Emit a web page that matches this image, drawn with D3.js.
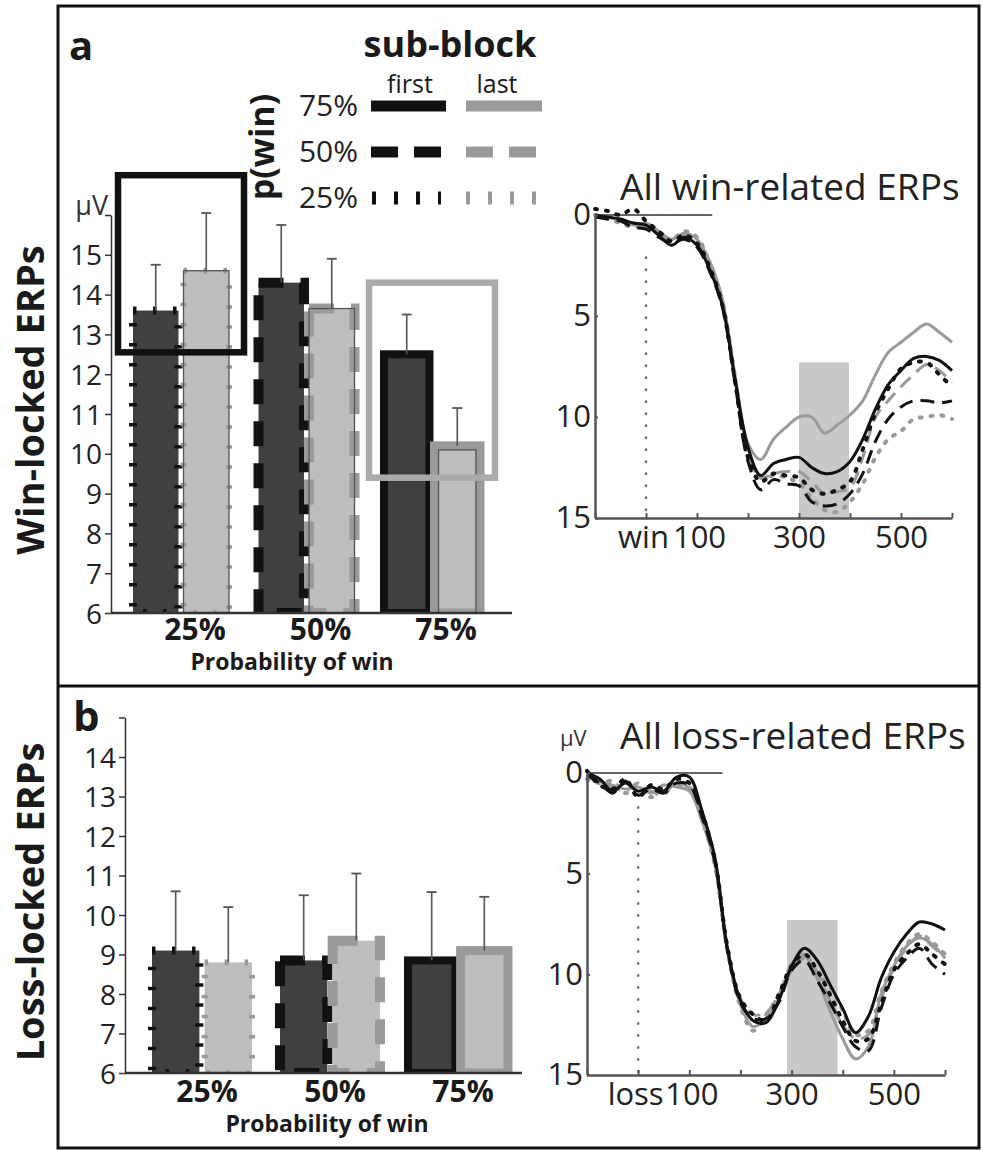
<!DOCTYPE html>
<html>
<head>
<meta charset="utf-8">
<script src="https://cdn.jsdelivr.net/npm/d3@7"></script>
<style>
body { margin: 0; background: #fff; }
svg text { font-family: "Open Sans", sans-serif; fill: #1a1a1a; }
</style>
</head>
<body>
<div id="fig"></div>
<script>
// bar values (uV) per probability-of-win group
var groups = ["25%", "50%", "75%"];
var subBlocks = ["first", "last"];

var winFirst = [13.6, 14.3, 12.5];
var winLast = [14.6, 13.65, 10.2];
var winFirstSem = [1.15, 1.45, 1.0];
var winLastSem = [1.45, 1.25, 0.95];

var lossFirst = [9.1, 8.85, 8.85];
var lossLast = [8.8, 9.35, 9.1];
var lossFirstSem = [1.5, 1.65, 1.73];
var lossLastSem = [1.4, 1.7, 1.36];

// highlighted cells in panel a: [group, low, high]
var winBoxes = [["25%", 12.55, 17.0], ["75%", 9.4, 14.3]];

// ERP waveforms, time in ms, amplitude in uV (positive plotted down)
var times = [-100, -75, -50, -25, 0, 25, 50, 75, 100, 125, 150, 175, 200, 225, 250, 275, 300, 325, 350, 375, 400, 425, 450, 475, 500, 525, 550, 575, 600];

var win75First = [0, 0.1, 0.2, 0.4, 0.5, 1.0, 1.5, 1.1, 1.5, 2.7, 4.5, 8.2, 11.5, 12.9, 12.3, 12.1, 12.0, 12.5, 12.8, 12.7, 12.2, 11.1, 9.6, 8.4, 7.7, 7.1, 7.0, 7.2, 7.7];
var win75Last = [0, 0.1, 0.3, 0.5, 0.4, 0.8, 1.2, 0.9, 1.2, 2.3, 4.2, 8.0, 11.3, 12.1, 11.1, 10.5, 10.0, 10.0, 10.8, 10.4, 9.9, 9.2, 7.9, 6.8, 6.3, 5.8, 5.4, 5.8, 6.3];
var win50First = [0.1, 0.2, 0.3, 0.6, 0.7, 1.1, 1.4, 1.2, 1.6, 2.8, 4.6, 8.4, 12.2, 13.6, 13.1, 13.3, 13.4, 14.2, 14.4, 14.3, 13.8, 12.8, 11.2, 10.1, 9.5, 9.2, 9.2, 9.3, 9.2];
var win50Last = [0, 0.1, 0.3, 0.5, 0.6, 0.9, 1.3, 1.0, 1.4, 2.5, 4.4, 8.3, 11.8, 13.0, 12.8, 12.7, 12.7, 13.2, 13.8, 13.7, 13.5, 12.0, 10.0, 9.2, 8.5, 7.9, 7.4, 7.7, 8.3];
var win25First = [-0.3, -0.2, 0.0, -0.3, 0.3, 0.8, 1.3, 1.0, 1.4, 2.6, 4.5, 8.3, 12.0, 13.2, 12.8, 12.9, 13.0, 13.6, 13.8, 13.6, 13.2, 11.6, 9.8, 8.6, 7.6, 7.3, 7.3, 7.9, 8.5];
var win25Last = [0, 0.2, 0.4, 0.6, 0.5, 0.9, 1.2, 0.8, 1.1, 2.4, 4.3, 8.1, 11.9, 13.0, 12.9, 13.0, 13.3, 14.0, 14.6, 14.7, 14.2, 13.3, 12.0, 11.1, 10.7, 10.1, 10.0, 9.9, 10.1];

var loss75First = [0, 0.3, 0.9, 0.5, 0.9, 0.7, 0.9, 0.2, 0.2, 1.9, 4.2, 8.8, 11.3, 12.3, 12.4, 11.3, 9.6, 8.7, 9.3, 10.5, 11.7, 12.9, 12.1, 10.2, 8.9, 8.0, 7.4, 7.5, 7.8];
var loss75Last = [0.2, 0.4, 0.6, 0.8, 0.7, 1.0, 0.6, 0.7, 0.9, 2.4, 4.5, 8.9, 11.5, 12.6, 12.2, 11.2, 9.8, 9.1, 10.2, 11.8, 13.2, 14.2, 13.6, 11.0, 9.6, 8.6, 8.2, 8.5, 9.2];
var loss50First = [0.1, 0.5, 1.0, 0.4, 1.1, 0.8, 1.0, 0.5, 0.6, 2.2, 4.4, 8.8, 11.4, 12.2, 12.2, 11.4, 9.8, 9.3, 10.3, 11.4, 12.6, 13.6, 13.8, 11.7, 10.0, 9.2, 8.7, 9.5, 10.0];
var loss50Last = [0.2, 0.3, 0.7, 0.9, 0.5, 0.9, 1.1, 0.4, 0.8, 2.1, 4.3, 8.7, 11.2, 12.0, 11.9, 11.0, 9.5, 9.0, 9.9, 11.3, 12.5, 13.2, 13.0, 11.2, 9.7, 8.7, 8.1, 8.6, 9.2];
var loss25First = [-0.1, 0.6, 0.8, 0.3, 1.2, 0.6, 0.8, 0.3, 0.5, 2.0, 4.3, 8.7, 11.2, 12.0, 12.3, 11.0, 9.6, 9.0, 9.8, 11.0, 12.3, 13.3, 13.2, 11.5, 9.8, 9.0, 8.5, 9.0, 9.5];
var loss25Last = [0.3, 0.5, 0.4, 1.0, 0.6, 1.2, 0.7, 0.6, 0.7, 2.3, 4.6, 8.9, 11.6, 12.8, 12.0, 11.0, 9.7, 9.2, 10.0, 10.6, 11.8, 13.0, 12.8, 10.9, 9.5, 8.5, 8.0, 8.4, 9.0];

var erpTicks = [-100, 0, 100, 200, 300, 400, 500, 600];
var erpTickLabels = {100: "100", 300: "300", 500: "500"};

var DARK = "#404040", LIGHT = "#bdbdbd", GRAY = "#9a9a9a", INK = "#111";

// line style for each group (25 dotted, 50 dashed, 75 solid)
var groupDash = ["3.5,16.5", "25,17", null];
var barWidth = { first: [8, 10, 8], last: [6, 10, 9] };
var erpDash = ["2,9", "14,8", null];

var svg = d3.select("#fig").append("svg")
    .attr("width", 982)
    .attr("height", 1150);

// outer frame
svg.append("rect")
    .attr("x", 58).attr("y", 6)
    .attr("width", 921).attr("height", 1142)
    .attr("fill", "none").attr("stroke", INK).attr("stroke-width", 3);
svg.append("line")
    .attr("x1", 58).attr("x2", 979).attr("y1", 686).attr("y2", 686)
    .attr("stroke", INK).attr("stroke-width", 3);

// row titles
svg.append("text")
    .attr("transform", "translate(44, 400) rotate(-90)")
    .attr("text-anchor", "middle")
    .style("font-size", "38px").style("font-weight", "bold")
    .text("Win-locked ERPs");
svg.append("text")
    .attr("transform", "translate(44, 902) rotate(-90)")
    .attr("text-anchor", "middle")
    .style("font-size", "38px").style("font-weight", "bold")
    .text("Loss-locked ERPs");

svg.append("text").attr("x", 69).attr("y", 60)
    .style("font-size", "40px").style("font-weight", "bold").text("a");
svg.append("text").attr("x", 73).attr("y", 731)
    .style("font-size", "42px").style("font-weight", "bold").text("b");

function drawBars(opt) {
    var g = svg.append("g");
    var y = opt.y;
    var x = opt.x;
    var inner = d3.scaleBand().domain(subBlocks).range(opt.inner).paddingInner(0.1);
    var y0 = y(6);

    var rows = [];
    groups.forEach(function (grp, i) {
        rows.push({ grp: grp, i: i, s: "first", v: opt.first[i], e: opt.firstSem[i] });
        rows.push({ grp: grp, i: i, s: "last", v: opt.last[i], e: opt.lastSem[i] });
    });

    var clipId = "clip" + opt.name;
    g.append("clipPath").attr("id", clipId)
        .append("rect")
        .attr("x", x.range()[0] - 100).attr("y", 0)
        .attr("width", 600).attr("height", y0);

    var bars = g.append("g").attr("clip-path", "url(#" + clipId + ")");

    bars.selectAll("rect.bar")
        .data(rows)
        .enter()
        .append("rect")
        .attr("class", "bar")
        .attr("x", d => x(d.grp) + inner(d.s))
        .attr("width", inner.bandwidth())
        .attr("y", d => y(d.v))
        .attr("height", d => y0 - y(d.v))
        .attr("fill", d => d.s == "first" ? DARK : LIGHT)
        .attr("stroke", d => d.s == "first" ? INK : GRAY)
        .attr("stroke-width", d => barWidth[d.s][d.i])
        .attr("stroke-dasharray", d => groupDash[d.i]);

    if (opt.outline) {
        bars.selectAll("rect.outline")
            .data(rows.filter(d => d.s == "last"))
            .enter()
            .append("rect")
            .attr("x", d => x(d.grp) + inner(d.s) + (d.i == 2 ? 4 : 0))
            .attr("width", d => inner.bandwidth() - (d.i == 2 ? 8 : 0))
            .attr("y", d => y(d.v) + (d.i == 2 ? 4 : 0))
            .attr("height", d => y0 - y(d.v))
            .attr("fill", "none")
            .attr("stroke", "#555")
            .attr("stroke-width", 1.3);
    }

    // error bars (upper half only)
    var err = g.selectAll("g.err").data(rows).enter().append("g");
    err.append("line")
        .attr("x1", d => x(d.grp) + inner(d.s) + inner.bandwidth() / 2)
        .attr("x2", d => x(d.grp) + inner(d.s) + inner.bandwidth() / 2)
        .attr("y1", d => y(d.v))
        .attr("y2", d => y(d.v + d.e))
        .attr("stroke", "#555").attr("stroke-width", 1.6);
    err.append("line")
        .attr("x1", d => x(d.grp) + inner(d.s) + inner.bandwidth() / 2 - 5)
        .attr("x2", d => x(d.grp) + inner(d.s) + inner.bandwidth() / 2 + 5)
        .attr("y1", d => y(d.v + d.e))
        .attr("y2", d => y(d.v + d.e))
        .attr("stroke", "#555").attr("stroke-width", 1.8);

    // axes
    var top = y.domain()[1];
    var yAxis = d3.axisLeft(y)
        .tickValues(d3.range(6, top + 1))
        .tickFormat(d => d == top ? "" : d)
        .tickSize(6).tickSizeOuter(0);
    var ax = g.append("g")
        .attr("transform", `translate(${opt.axisX}, 0)`)
        .call(yAxis);
    ax.select(".domain").attr("stroke", "#333").attr("stroke-width", 1.5);
    ax.selectAll(".tick line").attr("stroke", "#333").attr("stroke-width", 1.5);
    ax.selectAll(".tick text")
        .attr("x", -9)
        .style("font-size", "28px").style("fill", "#222")
        .attr("dy", "0.36em");

    g.append("line")
        .attr("x1", opt.axisX).attr("x2", opt.axisEnd)
        .attr("y1", y0).attr("y2", y0)
        .attr("stroke", "#333").attr("stroke-width", 2.5);

    g.selectAll("text.grp")
        .data(groups)
        .enter()
        .append("text")
        .attr("x", d => x(d) + opt.labelShift)
        .attr("y", opt.labelY)
        .attr("text-anchor", "middle")
        .style("font-size", "30px").style("font-weight", "bold")
        .text(d => d);

    g.append("text")
        .attr("x", opt.titleX).attr("y", opt.labelY + 30)
        .attr("text-anchor", "middle")
        .style("font-size", "23px").style("font-weight", "bold")
        .text("Probability of win");

    return g;
}

var yWin = d3.scaleLinear().domain([6, 16]).range([613, 215]);
var xWin = d3.scalePoint().domain(groups).range([181, 432]);
var barA = drawBars({
    name: "a", x: xWin, y: yWin, inner: [-48, 48],
    first: winFirst, last: winLast, firstSem: winFirstSem, lastSem: winLastSem,
    outline: true, axisX: 111, axisEnd: 512, labelY: 640, labelShift: 14, titleX: 292
});

// highlight boxes
barA.selectAll("rect.box")
    .data(winBoxes)
    .enter()
    .append("rect")
    .attr("x", d => xWin(d[0]) - 63)
    .attr("width", 126)
    .attr("y", d => yWin(d[2]))
    .attr("height", d => yWin(d[1]) - yWin(d[2]))
    .attr("fill", "none")
    .attr("stroke", (d, i) => i == 0 ? INK : "#aaa")
    .attr("stroke-width", 6.5);

barA.append("text")
    .attr("x", 108).attr("y", 215)
    .attr("text-anchor", "end")
    .style("font-size", "27px").style("fill", "#333")
    .text("μV");

var yLossBar = d3.scaleLinear().domain([6, 15]).range([1073, 717.5]);
var xLossBar = d3.scalePoint().domain(groups).range([202, 458]);
drawBars({
    name: "b", x: xLossBar, y: yLossBar, inner: [-50, 50],
    first: lossFirst, last: lossLast, firstSem: lossFirstSem, lastSem: lossLastSem,
    outline: false, axisX: 125, axisEnd: 522, labelY: 1102, labelShift: 5, titleX: 327
});

// legend
var legendRows = ["75%", "50%", "25%"];
var legendIdx = [2, 1, 0];
var legend = svg.append("g");
legend.append("text").attr("x", 450).attr("y", 57)
    .attr("text-anchor", "middle")
    .style("font-size", "36px").style("font-weight", "bold")
    .text("sub-block");
legend.append("text").attr("x", 410).attr("y", 93)
    .attr("text-anchor", "middle").style("font-size", "25px").text("first");
legend.append("text").attr("x", 497).attr("y", 93)
    .attr("text-anchor", "middle").style("font-size", "25px").text("last");
legend.append("text")
    .attr("transform", "translate(274, 147) rotate(-90)")
    .attr("text-anchor", "middle")
    .style("font-size", "34px").style("font-weight", "bold")
    .text("p(win)");

legendRows.forEach(function (lab, r) {
    var ly = 106 + r * 46;
    var gi = legendIdx[r];
    legend.append("text").attr("x", 358).attr("y", ly + 10)
        .attr("text-anchor", "end").style("font-size", "30px").style("fill", "#222")
        .text(lab);
    var dash = gi == 0 ? "4,18" : gi == 1 ? "27,16" : null;
    legend.append("line")
        .attr("x1", gi == 0 ? 372 : 371).attr("x2", gi == 2 ? 446 : 441)
        .attr("y1", ly).attr("y2", ly)
        .attr("stroke", INK).attr("stroke-width", gi == 0 ? 13 : 11)
        .attr("stroke-dasharray", dash);
    legend.append("line")
        .attr("x1", 466).attr("x2", gi == 2 ? 542 : 537)
        .attr("y1", ly).attr("y2", ly)
        .attr("stroke", GRAY).attr("stroke-width", gi == 0 ? 13 : 11)
        .attr("stroke-dasharray", dash);
});

function drawErp(opt) {
    var g = svg.append("g");
    var x = d3.scaleLinear().domain([-100, 600]).range(opt.xr);
    var y = d3.scaleLinear().domain([0, 15]).range(opt.yr);

    g.append("text")
        .attr("x", 620).attr("y", opt.titleY)
        .style("font-size", "37px").style("fill", "#222")
        .text(opt.title);

    // analysis window
    g.append("rect")
        .attr("x", x(opt.win[0]))
        .attr("width", x(opt.win[1]) - x(opt.win[0]))
        .attr("y", y(7.3))
        .attr("height", y(15) - y(7.3))
        .attr("fill", "#c8c8c8");

    // event onset
    g.append("line")
        .attr("x1", x(0)).attr("x2", x(0))
        .attr("y1", y(opt.onsetTop)).attr("y2", y(15))
        .attr("stroke", "#777").attr("stroke-width", 2.5)
        .attr("stroke-linecap", "round")
        .attr("stroke-dasharray", "0.5,11.5");

    g.append("line")
        .attr("x1", x(-100)).attr("x2", x(opt.zeroEnd))
        .attr("y1", y(0)).attr("y2", y(0))
        .attr("stroke", "#333").attr("stroke-width", 1.6);

    var line = d3.line()
        .x((d, i) => x(times[i]))
        .y(d => y(d))
        .curve(d3.curveCatmullRom.alpha(0.5));

    // draw gray first, black on top
    var order = [[1, 2], [1, 1], [1, 0], [0, 2], [0, 1], [0, 0]];
    order.forEach(function (o) {
        var s = o[0], gi = o[1];
        g.append("path")
            .datum(opt.series[gi][s])
            .attr("d", line)
            .attr("fill", "none")
            .attr("stroke", s == 0 ? INK : GRAY)
            .attr("stroke-width", gi == 0 ? 4 : 3)
            .attr("stroke-linecap", gi == 0 ? "round" : "butt")
            .attr("stroke-dasharray", erpDash[gi]);
    });

    var yAxis = d3.axisLeft(y).tickValues([0, 5, 10, 15]).tickSize(-3).tickSizeOuter(0);
    var ay = g.append("g").attr("transform", `translate(${x(-100)}, 0)`).call(yAxis);
    ay.select(".domain").attr("stroke", "#555").attr("stroke-width", 2.5);
    ay.selectAll(".tick line").attr("stroke", "#555").attr("stroke-width", 2);
    ay.selectAll(".tick text").attr("x", -4)
        .style("font-size", "31px").style("fill", "#222");

    var labels = Object.assign({}, erpTickLabels);
    labels[0] = opt.event;
    var xAxis = d3.axisBottom(x).tickValues(erpTicks)
        .tickFormat(d => labels[d] === undefined ? "" : labels[d])
        .tickSize(-5).tickSizeOuter(0);
    var axx = g.append("g").attr("transform", `translate(0, ${y(15)})`).call(xAxis);
    axx.select(".domain").attr("stroke", "#555").attr("stroke-width", 2.5);
    axx.selectAll(".tick line").attr("stroke", "#555").attr("stroke-width", 2);
    axx.selectAll(".tick text").attr("y", 8)
        .style("font-size", "31px").style("fill", "#222");
    axx.selectAll(".tick text").filter(d => d == 0).attr("dx", -3);
    axx.selectAll(".tick text").filter(d => d == 100).attr("dx", 2);
    return g;
}

drawErp({
    title: "All win-related ERPs", titleY: 200, event: "win",
    xr: [595, 952], yr: [215, 518], win: [300, 398], onsetTop: 2.1, zeroEnd: 130,
    series: [[win25First, win25Last], [win50First, win50Last], [win75First, win75Last]]
});

var erpB = drawErp({
    title: "All loss-related ERPs", titleY: 749, event: "loss",
    xr: [587, 945], yr: [773, 1075], win: [291, 390], onsetTop: 1.1, zeroEnd: 165,
    series: [[loss25First, loss25Last], [loss50First, loss50Last], [loss75First, loss75Last]]
});
erpB.append("text")
    .attr("x", 560).attr("y", 746)
    .style("font-size", "22px").style("fill", "#333")
    .text("μV");
</script>
</body>
</html>
